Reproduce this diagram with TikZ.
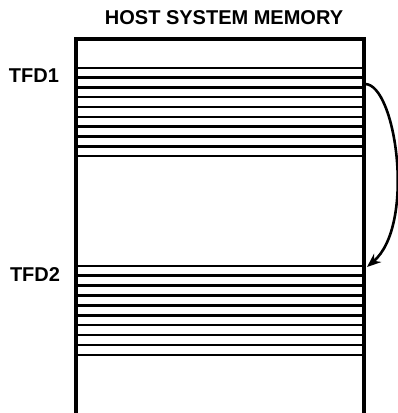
\documentclass[tikz,border=0pt]{standalone}
\usepackage{fontspec}
\setmainfont{Liberation Sans}
\usetikzlibrary{arrows.meta}
\begin{document}
\begin{tikzpicture}[x=1pt,y=-1pt,txt/.style={font=\bfseries\fontsize{20}{20}\selectfont,inner sep=0pt},slot/.style={line width=2.4pt},line width=3.2pt]
          \useasboundingbox (0,0) rectangle (398,413);
          \node[draw,minimum width=288pt,minimum height=376pt,inner sep=0pt,outer sep=0pt,anchor=north west] (mem) at (76,39) {};
          \node[txt] (title) at (224,18) {HOST SYSTEM MEMORY};
          \node[txt] (tfd1l) at (34,76) {TFD1};
          \node[txt] (tfd2l) at (35,275) {TFD2};
          \foreach \y in {0,...,9} {
            \draw[slot] (mem.west |- 0,67.7+9.83*\y) -- (mem.east |- 0,67.7+9.83*\y);
            \draw[slot] (mem.west |- 0,265.7+9.93*\y) -- (mem.east |- 0,265.7+9.93*\y);
          }
          \coordinate (tfd1) at (365,84);
          \coordinate (tfd2) at (367,267);
          \draw[line width=2.6pt,-{Stealth[length=14pt,width=11pt]}] (tfd1) .. controls (396,84) and (416,225) .. (tfd2);
        \end{tikzpicture}
\end{document}
